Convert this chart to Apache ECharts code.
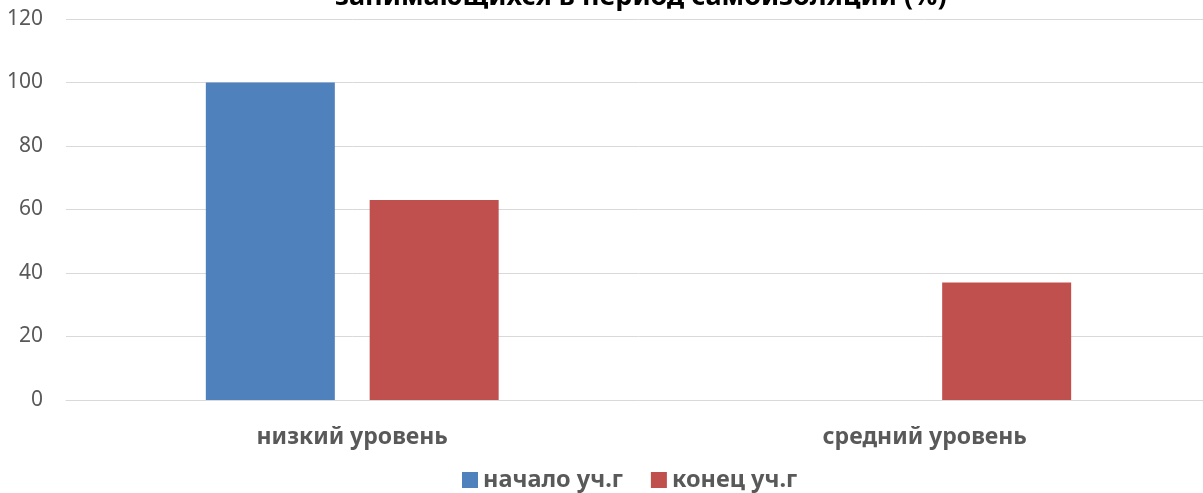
<!DOCTYPE html>
<html><head><meta charset="utf-8">
<script src="https://cdn.jsdelivr.net/npm/echarts@6/dist/echarts.min.js"></script>
<style>html,body{margin:0;padding:0;background:#fff;overflow:hidden}#c{width:1211px;height:493px}</style>
</head><body><div id="c"></div>
<script>
const categories = ['низкий уровень', 'средний уровень'];
const seriesNames = ['начало уч.г', 'конец уч.г'];
const startValues = [100, 0];
const endValues = [63, 37];
const titleText = 'занимающихся в период самоизоляции (%)';

const font = 'Noto Sans';
const chart = echarts.init(document.getElementById('c'));
chart.setOption({
  animation: false,
  title: { text: titleText, left: 330, top: -21, textStyle: { fontFamily: font, fontSize: 27, fontWeight: 'bold', color: '#000' } },
  grid: { left: 66, right: 0, top: 19, bottom: 93, containLabel: false },
  legend: {
    top: 463, left: 457, itemWidth: 16, itemHeight: 16, itemGap: 28,
    textStyle: { fontFamily: font, fontSize: 23.5, fontWeight: 'bold', color: '#595959' },
    data: seriesNames.map(n => ({ name: n, icon: 'rect' }))
  },
  xAxis: {
    type: 'category', data: categories,
    axisLine: { lineStyle: { color: '#d9d9d9' } }, axisTick: { show: false },
    axisLabel: { fontFamily: font, fontSize: 23, fontWeight: 'bold', color: '#595959', margin: 26 }
  },
  yAxis: {
    type: 'value', min: 0, max: 120, interval: 20,
    axisLine: { show: false }, axisTick: { show: false },
    splitLine: { lineStyle: { color: '#d9d9d9', width: 1 } },
    axisLabel: { fontFamily: font, fontSize: 21, color: '#595959', margin: 23 }
  },
  series: [
    { name: seriesNames[0], type: 'bar', data: startValues, barWidth: 129, barGap: '27%', itemStyle: { color: '#4F81BD' } },
    { name: seriesNames[1], type: 'bar', data: endValues, barWidth: 129, itemStyle: { color: '#C0504D' } }
  ]
});
</script></body></html>
